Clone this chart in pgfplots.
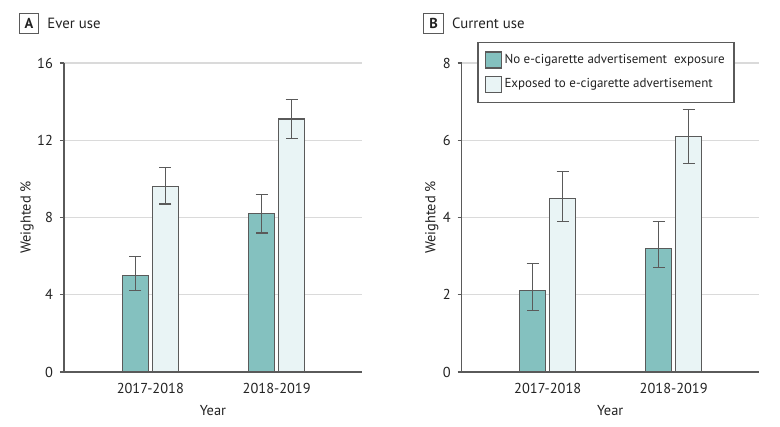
\documentclass[border=0pt]{standalone}
\usepackage{pgfplots}
\pgfplotsset{compat=1.18}
\usepackage{fontspec}
\setmainfont{PT Sans}
\definecolor{tealbar}{HTML}{84C1BF}
\definecolor{lightbar}{HTML}{E9F4F5}
\definecolor{edge}{HTML}{5A5A5A}
\definecolor{gridc}{HTML}{DADADA}
\definecolor{txt}{HTML}{222222}
\pgfplotsset{
  myax/.style={
    scale only axis, anchor=south west,
    height=154.5pt,
    ybar=2pt, bar width=13pt,
    xmin=-0.683, xmax=1.675,
    xtick={0,1}, xticklabels={2017-2018,2018-2019},
    axis x line*=bottom, axis y line*=left,
    axis line style={edge, line width=0.6pt},
    ymajorgrids, grid style={gridc, line width=0.6pt},
    tick align=outside, major tick length=2pt,
    ytick style={edge, line width=0.6pt},
    xtick style={draw=none},
    ymin=0,
    tick label style={font=\fontsize{7.2}{8}\selectfont, text=txt},
    label style={font=\fontsize{7.2}{8}\selectfont, text=txt},
    xlabel={Year}, ylabel={Weighted \%},
    xlabel style={at={(axis description cs:0.5,-0.124)}, anchor=center},
    error bars/y dir=both, error bars/y explicit,
    error bars/error bar style={edge, line width=0.6pt},
    error bars/error mark options={rotate=90, mark size=3pt, edge, line width=0.6pt},
    /pgf/number format/assume math mode=true,
  },
  tealst/.style={fill=tealbar, draw=edge, line width=0.6pt},
  lightst/.style={fill=lightbar, draw=edge, line width=0.6pt},
}
\begin{document}
\begin{tikzpicture}
\useasboundingbox (0,0) rectangle (390pt,213.5pt);
% Panel A
\begin{axis}[myax, at={(32pt,27.5pt)}, width=149pt,
  ymax=16, ytick={0,4,8,12,16},
  ylabel style={at={(axis description cs:-0.124,0.5)}, anchor=center}]
\addplot[tealst] coordinates {(0,5.0) += (0,1.0) -= (0,0.8) (1,8.2) += (0,1.0) -= (0,1.0)};
\addplot[lightst] coordinates {(0,9.6) += (0,1.0) -= (0,0.9) (1,13.1) += (0,1.0) -= (0,1.0)};
\end{axis}
% Panel B
\begin{axis}[myax, at={(230.85pt,27.5pt)}, width=148.5pt,
  ymax=8, ytick={0,2,4,6,8},
  ylabel style={at={(axis description cs:-0.101,0.5)}, anchor=center},
  legend cell align=left,
  legend style={at={(axis description cs:0.0525,1.069)}, anchor=north west,
    draw=edge, line width=0.6pt, fill=white, font=\fontsize{6.5}{8}\selectfont,
    text=txt, inner xsep=3.5pt, inner ysep=4.6pt, row sep=3.6pt,
    nodes={inner xsep=1.2pt, inner ysep=0.5pt}},
  legend image code/.code={\draw[#1] (0pt,-4pt) rectangle (8pt,4pt);}]
\addplot[tealst] coordinates {(0,2.1) += (0,0.7) -= (0,0.5) (1,3.2) += (0,0.7) -= (0,0.5)};
\addplot[lightst] coordinates {(0,4.5) += (0,0.7) -= (0,0.6) (1,6.1) += (0,0.7) -= (0,0.7)};
\legend{No e-cigarette advertisement\ \ exposure, Exposed to e-cigarette advertisement}
\end{axis}
% Panel labels
\node[draw=edge, line width=0.6pt, minimum size=9.8pt, inner sep=0pt, font=\fontsize{7.2}{8}\selectfont\bfseries, text=txt] at (14.5pt,201.75pt) {A};
\node[anchor=west, inner sep=0pt, font=\fontsize{7.4}{8}\selectfont, text=txt] at (23.5pt,201.75pt) {Ever use};
\node[draw=edge, line width=0.6pt, minimum size=9.8pt, inner sep=0pt, font=\fontsize{7.2}{8}\selectfont\bfseries, text=txt] at (216.75pt,201.75pt) {B};
\node[anchor=west, inner sep=0pt, font=\fontsize{7.4}{8}\selectfont, text=txt] at (225.85pt,201.75pt) {Current use};
\end{tikzpicture}
\end{document}
